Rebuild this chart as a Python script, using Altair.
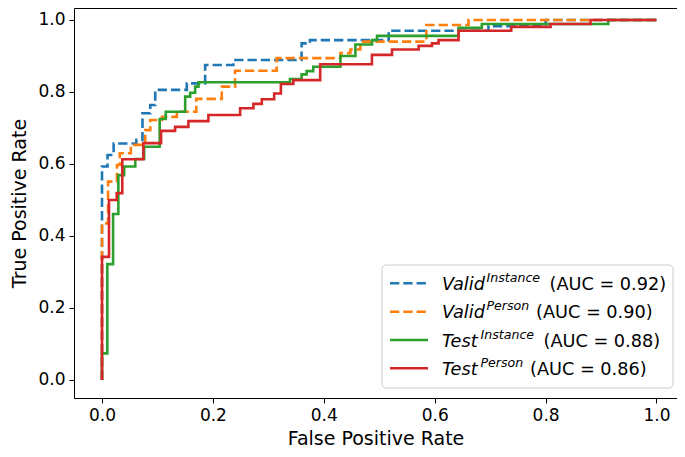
import altair as alt
import pandas as pd

# ---------------- data ----------------
series_names = ["Valid Instance", "Valid Person", "Test Instance", "Test Person"]
series_colors = ["#1f77b4", "#ff7f0e", "#2ca02c", "#d62728"]
series_dashed = [True, True, False, False]
legend_main = ["Valid", "Valid", "Test", "Test"]
legend_sup = ["Instance", "Person", "Instance", "Person"]
legend_auc = ["0.92", "0.90", "0.88", "0.86"]

valid_instance_fpr = [0, 0, 0.010, 0.021, 0.062, 0.073, 0.087, 0.096, 0.153, 0.186, 0.237,
                      0.360, 0.375, 0.517, 0.697, 0.800, 1.0]
valid_instance_tpr = [0, 0.593, 0.625, 0.657, 0.667, 0.741, 0.764, 0.806, 0.824, 0.875, 0.889,
                      0.935, 0.944, 0.970, 0.983, 1.0, 1.0]

valid_person_fpr = [0, 0, 0.011, 0.027, 0.032, 0.052, 0.078, 0.087, 0.108, 0.135, 0.170,
                    0.216, 0.240, 0.315, 0.430, 0.448, 0.466, 0.585, 0.661, 1.0]
valid_person_tpr = [0, 0.435, 0.551, 0.597, 0.630, 0.653, 0.694, 0.722, 0.731, 0.745, 0.781,
                    0.815, 0.859, 0.894, 0.908, 0.918, 0.940, 0.986, 1.0, 1.0]

test_instance_fpr = [0, 0, 0.0096, 0.020, 0.0295, 0.040, 0.060, 0.076, 0.104, 0.115, 0.150,
                     0.159, 0.168, 0.174, 0.339, 0.360, 0.369, 0.381, 0.430, 0.457, 0.487,
                     0.496, 0.643, 0.685, 0.913, 1.0]
test_instance_tpr = [0, 0.074, 0.322, 0.461, 0.569, 0.593, 0.614, 0.648, 0.725, 0.745, 0.787,
                     0.798, 0.815, 0.827, 0.836, 0.849, 0.858, 0.870, 0.900, 0.932, 0.944,
                     0.956, 0.978, 0.989, 1.0, 1.0]

test_person_fpr = [0, 0, 0.0126, 0.0265, 0.0366, 0.0746, 0.1065, 0.1318, 0.1558, 0.1919,
                   0.2491, 0.2731, 0.2882, 0.3105, 0.3226, 0.345, 0.3935, 0.4868, 0.523,
                   0.571, 0.5951, 0.607, 0.643, 0.738, 0.809, 0.881, 1.0]
test_person_tpr = [0, 0.342, 0.5, 0.519, 0.613, 0.658, 0.692, 0.703, 0.719, 0.736,
                   0.755, 0.767, 0.780, 0.796, 0.822, 0.833, 0.877, 0.903, 0.918,
                   0.928, 0.935, 0.944, 0.970, 0.981, 0.989, 1.0, 1.0]

x_ticks = [0.0, 0.2, 0.4, 0.6, 0.8, 1.0]
y_ticks = [0.0, 0.2, 0.4, 0.6, 0.8, 1.0]

curves = [
    (valid_instance_fpr, valid_instance_tpr),
    (valid_person_fpr, valid_person_tpr),
    (test_instance_fpr, test_instance_tpr),
    (test_person_fpr, test_person_tpr),
]

rows = []
for name, (fx, ty) in zip(series_names, curves):
    for i, (a, b) in enumerate(zip(fx, ty)):
        rows.append({"series": name, "fpr": a, "tpr": b, "idx": i})
df = pd.DataFrame(rows)

# ---------------- layout ----------------
W, H = 603, 390
FONT = "DejaVu Sans"
TICK_FS = 17
TITLE_FS = 19
LEG_FS = 17.7
SUP_FS = 12.6

x_enc = alt.X("fpr:Q",
              scale=alt.Scale(domain=[-0.0505, 1.037], nice=False, zero=False),
              axis=alt.Axis(values=x_ticks, format=".1f", title="False Positive Rate"))
y_enc = alt.Y("tpr:Q",
              scale=alt.Scale(domain=[-0.05, 1.0333], nice=False, zero=False),
              axis=alt.Axis(values=y_ticks, format=".1f", title="True Positive Rate",
                            titlePadding=8))

layers = []
for name, color, dashed in zip(series_names, series_colors, series_dashed):
    mk = dict(color=color, strokeWidth=2.6, interpolate="step-after", clip=True)
    if dashed:
        mk["strokeDash"] = [9.3, 4]
    layers.append(
        alt.Chart(df)
        .transform_filter(alt.datum.series == name)
        .mark_line(**mk)
        .encode(x=x_enc, y=y_enc, order="idx:Q")
    )

# legend (custom, for italic + superscript text)
one = pd.DataFrame({"k": [0]})
box = alt.Chart(one).mark_rect(
    fill="white", fillOpacity=0.8, stroke="#cccccc", strokeWidth=1, cornerRadius=4
).encode(x=alt.value(308), x2=alt.value(599), y=alt.value(257), y2=alt.value(380))
layers.append(box)

row_y = [275.3, 303.7, 332.0, 360.3]
line_x0, line_x1 = 316, 354
name_x = 368
sup_x = [412.5, 412.5, 406.5, 406.5]
auc_x = [475.5, 462.0, 469.5, 456.0]

for i in range(4):
    r = row_y[i]
    rule_kw = dict(color=series_colors[i], strokeWidth=2.6)
    if series_dashed[i]:
        rule_kw["strokeDash"] = [9.3, 4]
    layers.append(
        alt.Chart(one).mark_rule(**rule_kw).encode(
            x=alt.value(line_x0), x2=alt.value(line_x1), y=alt.value(r))
    )
    layers.append(
        alt.Chart(one).mark_text(
            text=legend_main[i], font=FONT, fontSize=LEG_FS, fontStyle="italic",
            align="left", baseline="alphabetic", color="black"
        ).encode(x=alt.value(name_x), y=alt.value(r + 6.5))
    )
    layers.append(
        alt.Chart(one).mark_text(
            text=legend_sup[i], font=FONT, fontSize=SUP_FS, fontStyle="italic",
            align="left", baseline="alphabetic", color="black"
        ).encode(x=alt.value(sup_x[i]), y=alt.value(r - 1.5))
    )
    layers.append(
        alt.Chart(one).mark_text(
            text=f"(AUC = {legend_auc[i]})", font=FONT, fontSize=LEG_FS,
            align="left", baseline="alphabetic", color="black"
        ).encode(x=alt.value(auc_x[i]), y=alt.value(r + 6.5))
    )

chart = (
    alt.layer(*layers)
    .properties(
        width=W, height=H,
        autosize=alt.AutoSizeParams(type="none"),
        padding={"left": 66, "top": 0, "right": 0, "bottom": 50},
    )
    .configure_view(stroke="black", strokeWidth=1)
    .configure_axis(
        grid=False, domain=False,
        tickColor="black", tickSize=5, tickWidth=1,
        labelFont=FONT, labelFontSize=TICK_FS, labelColor="black", labelPadding=4,
        titleFont=FONT, titleFontSize=TITLE_FS, titleColor="black",
        titleFontWeight="normal", titlePadding=8,
    )
    .configure_axisX(titlePadding=6)
)

chart.save("out.html", embed_options={"renderer": "svg", "actions": False})
